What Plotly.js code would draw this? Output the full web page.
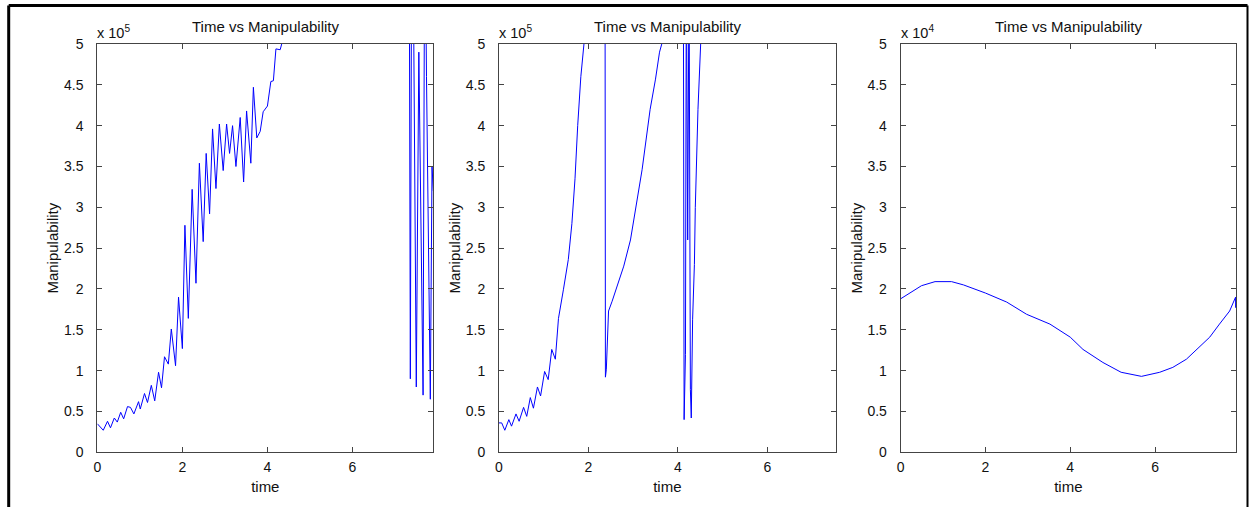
<!DOCTYPE html>
<html>
<head>
<meta charset="utf-8">
<script src="https://cdn.plot.ly/plotly-3.0.1.min.js"></script>
<style>
  html, body { margin: 0; padding: 0; background: #ffffff; }
  #chart { width: 1249px; height: 507px; }
</style>
</head>
<body>
<div id="chart"></div>
<script>
// ---------- data ----------
// Panel 1: manipulability in units of 1e5
const time1 = [0, 0.14, 0.24, 0.31, 0.40, 0.47, 0.55, 0.62, 0.71, 0.78, 0.86, 0.97, 1.01, 1.11, 1.18,
  1.27, 1.35, 1.44, 1.51, 1.58, 1.67, 1.74, 1.84, 1.91, 2.00, 2.06, 2.14, 2.23, 2.32, 2.40, 2.49,
  2.56, 2.64, 2.71, 2.79, 2.87, 2.96, 3.04, 3.11, 3.18, 3.26, 3.36, 3.44, 3.51, 3.61, 3.67, 3.75,
  3.83, 3.90, 4.00, 4.08, 4.14, 4.20, 4.30, 4.36, 4.50, 5.50, 6.50, 7.32, 7.36, 7.40, 7.50, 7.56,
  7.66, 7.70, 7.74, 7.83, 7.87, 7.90];
const manip1 = [0.35, 0.27, 0.38, 0.30, 0.42, 0.37, 0.49, 0.41, 0.56, 0.55, 0.47, 0.62, 0.53, 0.72, 0.61,
  0.82, 0.63, 0.98, 0.79, 1.17, 1.08, 1.51, 1.06, 1.90, 1.27, 2.78, 1.64, 3.22, 2.07, 3.54, 2.58,
  3.66, 2.92, 3.96, 3.23, 4.02, 3.45, 4.02, 3.66, 4.00, 3.50, 4.10, 3.31, 4.18, 3.54, 4.47, 3.85,
  3.93, 4.17, 4.24, 4.54, 4.55, 4.94, 4.93, 5.05, 5.60, 7.50, 9.00, 9.50, 0.90, 8.00, 0.80, 4.90,
  0.70, 7.00, 4.60, 0.65, 3.50, 3.20];

// Panel 2: manipulability in units of 1e5
const time2 = [0, 0.06, 0.13, 0.22, 0.28, 0.38, 0.45, 0.55, 0.62, 0.70, 0.77, 0.86, 0.93, 1.02, 1.10,
  1.18, 1.26, 1.33, 1.44, 1.55, 1.63, 1.70, 1.76, 1.83, 1.90, 2.10, 2.37, 2.38, 2.40, 2.45, 2.53,
  2.64, 2.79, 2.94, 3.10, 3.20, 3.38, 3.50, 3.59, 3.64, 3.90, 4.12, 4.14, 4.17, 4.19, 4.21, 4.22,
  4.25, 4.28, 4.30, 4.33, 4.37, 4.39, 4.45, 4.51, 5.50, 6.50, 7.50];
const manip2 = [0.36, 0.36, 0.27, 0.40, 0.32, 0.47, 0.38, 0.55, 0.44, 0.67, 0.54, 0.80, 0.69, 0.99, 0.89,
  1.26, 1.14, 1.64, 1.99, 2.36, 2.80, 3.35, 4.00, 4.60, 5.00, 6.50, 7.00, 0.92, 1.01, 1.73, 1.85,
  2.03, 2.28, 2.60, 3.10, 3.46, 4.20, 4.57, 4.90, 5.00, 6.50, 7.00, 0.40, 1.20, 6.00, 4.00, 2.60,
  6.00, 0.77, 0.42, 1.63, 2.30, 3.00, 4.20, 5.00, 7.00, 8.00, 9.00];

// Panel 3: manipulability in units of 1e4
const time3 = [0, 0.49, 0.81, 1.20, 1.48, 2.00, 2.50, 2.97, 3.52, 4.00, 4.30, 4.77, 5.20, 5.68, 6.11,
  6.42, 6.74, 7.05, 7.29, 7.52, 7.76, 7.90, 7.90];
const manip3 = [1.88, 2.04, 2.09, 2.09, 2.05, 1.95, 1.84, 1.69, 1.57, 1.41, 1.26, 1.10, 0.98, 0.93, 0.98,
  1.04, 1.14, 1.29, 1.41, 1.57, 1.73, 1.90, 1.77];

const xTicks = [0, 2, 4, 6];
const yTicks = [0, 0.5, 1, 1.5, 2, 2.5, 3, 3.5, 4, 4.5, 5];
const panelTitle = 'Time vs Manipulability';
const xTitle = 'time';
const yTitle = 'Manipulability';
const exponents = [5, 5, 4];

// ---------- layout ----------
const W = 1249, H = 507;
const FONT = 'Liberation Sans, Arial, Helvetica, sans-serif';
const px = v => v / W;
const py = v => 1 - v / H;

const plotTop = 44, plotBottom = 452.3;
const xDomains = [[97.3, 433.3], [499, 835.7], [900.7, 1236]];
const xRanges = [[0, 7.9], [0, 7.53], [0, 7.91]];

function xAxis(i) {
  return {
    domain: [px(xDomains[i][0]), px(xDomains[i][1])],
    range: xRanges[i],
    anchor: i === 0 ? 'y' : 'y' + (i + 1),
    tickvals: xTicks,
    ticks: 'inside', ticklen: 5, tickcolor: '#444', tickwidth: 1,
    showline: true, linecolor: '#444', linewidth: 1, mirror: 'ticks',
    showgrid: false, zeroline: false,
    tickfont: { family: FONT, size: 14, color: '#111' },
    ticklabelstandoff: 2,
    title: { text: xTitle, font: { family: FONT, size: 15, color: '#111' }, standoff: 7 },
    fixedrange: true
  };
}
function yAxis(i) {
  return {
    domain: [py(plotBottom), py(plotTop)],
    range: [0, 5],
    anchor: i === 0 ? 'x' : 'x' + (i + 1),
    tickvals: yTicks,
    ticks: 'inside', ticklen: 5, tickcolor: '#444', tickwidth: 1,
    showline: true, linecolor: '#444', linewidth: 1, mirror: 'ticks',
    showgrid: false, zeroline: false,
    tickfont: { family: FONT, size: 14, color: '#111' },
    ticklabelstandoff: 10,
    title: { text: yTitle, font: { family: FONT, size: 15, color: '#111' }, standoff: 1 },
    fixedrange: true
  };
}

const series = [[time1, manip1], [time2, manip2], [time3, manip3]];
const traces = series.map((s, i) => ({
  type: 'scatter', mode: 'lines',
  x: s[0], y: s[1],
  xaxis: i === 0 ? 'x' : 'x' + (i + 1),
  yaxis: i === 0 ? 'y' : 'y' + (i + 1),
  line: { color: '#0000ff', width: 1 },
  hoverinfo: 'x+y', showlegend: false
}));

const annotations = [];
xDomains.forEach((d, i) => {
  annotations.push({
    xref: 'paper', yref: 'paper', x: px((d[0] + d[1]) / 2), y: py(26),
    xanchor: 'center', yanchor: 'middle', showarrow: false,
    text: panelTitle, font: { family: FONT, size: 15, color: '#111' }
  });
  annotations.push({
    xref: 'paper', yref: 'paper', x: px(d[0] - 2), y: py(32),
    xanchor: 'left', yanchor: 'middle', showarrow: false,
    text: 'x 10<sup>' + exponents[i] + '</sup>', font: { family: FONT, size: 14.5, color: '#111' }
  });
});

const frameL = 8.7, frameR = 1247.5, frameT = 5.5;
const shapes = [
  { type: 'line', xref: 'paper', yref: 'paper', x0: px(frameL), x1: px(frameL), y0: 0, y1: py(frameT),
    line: { color: '#000', width: 3 } },
  { type: 'line', xref: 'paper', yref: 'paper', x0: px(frameL), x1: px(frameR), y0: py(frameT), y1: py(frameT),
    line: { color: '#000', width: 3 } },
  { type: 'line', xref: 'paper', yref: 'paper', x0: px(frameR), x1: px(frameR), y0: 0, y1: py(frameT),
    line: { color: '#000', width: 2 } }
];

const layout = {
  width: W, height: H,
  margin: { l: 0, r: 0, t: 0, b: 0 },
  paper_bgcolor: '#ffffff', plot_bgcolor: '#ffffff',
  font: { family: FONT, size: 14, color: '#111' },
  xaxis: xAxis(0), yaxis: yAxis(0),
  xaxis2: xAxis(1), yaxis2: yAxis(1),
  xaxis3: xAxis(2), yaxis3: yAxis(2),
  annotations: annotations,
  shapes: shapes,
  showlegend: false
};

Plotly.newPlot('chart', traces, layout, { displayModeBar: false, staticPlot: true });
</script>
</body>
</html>
